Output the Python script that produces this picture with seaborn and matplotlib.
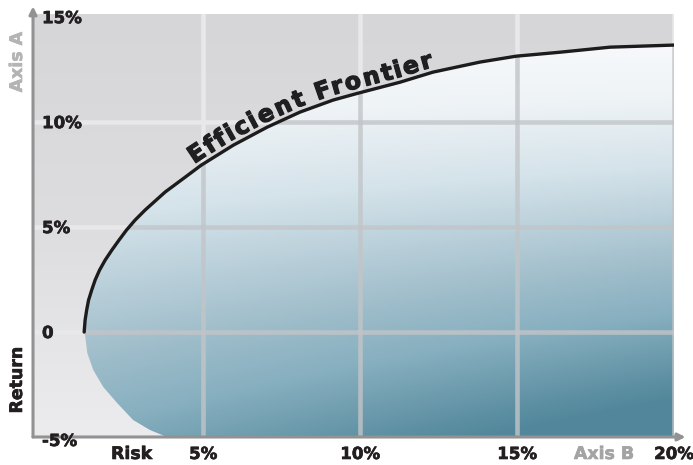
import numpy as np
import matplotlib
matplotlib.use("Agg")
import matplotlib.pyplot as plt
import matplotlib.patheffects as pe
import seaborn as sns
from matplotlib.colors import LinearSegmentedColormap
from matplotlib.patches import Polygon
from matplotlib.transforms import blended_transform_factory, IdentityTransform

# frontier (risk %, return %)
risk_frontier = [1.21, 1.24, 1.29, 1.35, 1.45, 1.56, 1.70, 1.88, 2.09, 2.32, 2.56, 2.83,
                 3.15, 3.47, 3.79, 4.43, 4.94, 5.96, 7.04, 8.09, 9.14, 9.94, 11.27,
                 12.32, 13.82, 14.97, 16.37, 17.96, 20.0]
return_frontier = [0.0, 0.57, 1.05, 1.52, 2.0, 2.48, 2.95, 3.43, 3.90, 4.38, 4.86, 5.33,
                   5.81, 6.24, 6.67, 7.38, 7.95, 8.90, 9.76, 10.48, 11.05, 11.38, 11.90,
                   12.38, 12.86, 13.14, 13.33, 13.57, 13.67]
# lower (inefficient) edge of the shaded region
risk_lower = [1.24, 1.31, 1.50, 1.82, 2.26, 2.77, 3.31, 3.85]
return_lower = [-0.14, -1.0, -1.81, -2.62, -3.38, -4.19, -4.67, -5.0]

x_ticks = [5, 10, 15, 20]
x_tick_labels = ["5%", "10%", "15%", "20%"]
y_ticks = [15, 10, 5, 0, -5]
y_tick_labels = ["15%", "10%", "5%", "0", "-5%"]
curve_label = "Efficient Frontier"

sns.set_style("white")
plt.rcParams["font.family"] = ["DejaVu Sans"]

fig = plt.figure(figsize=(6.93, 4.65), dpi=100)
ax = fig.add_axes([33 / 693, 28 / 465, 641 / 693, 423 / 465])
x0, x1, y0, y1 = -0.42, 20.0, -5.0, 15.15

# gray background, lighter towards the bottom
bg_cmap = LinearSegmentedColormap.from_list("bg", ["#d6d6d9", "#dddddf", "#ececee"])
bg = np.linspace(0, 1, 200).reshape(-1, 1)
ax.imshow(bg, extent=[x0, x1, y0, y1], aspect="auto", cmap=bg_cmap, zorder=0, origin="upper")

# shaded feasible region
poly_x = risk_frontier + [risk_frontier[-1]] + risk_lower[::-1]
poly_y = return_frontier + [y0] + return_lower[::-1]
region = Polygon(np.column_stack([poly_x, poly_y]), closed=True,
                 facecolor="none", edgecolor="none")
ax.add_patch(region)

fill_cmap = LinearSegmentedColormap.from_list(
    "fill", [(0, "#f7f9fb"), (0.15, "#eef3f6"), (0.34, "#d5e3ea"), (0.62, "#9fbdca"),
             (0.75, "#88b0c0"), (0.95, "#5b8ea1"), (1.0, "#52879b")])
gx, gy = np.meshgrid(np.linspace(x0, x1, 300), np.linspace(y1, y0, 300))
v = np.clip((13.7 - gy) / 18.7, 0, 1)
shade = np.clip(v * (0.75 + 0.35 * gx / 20), 0, 1)
im = ax.imshow(shade, extent=[x0, x1, y0, y1], aspect="auto", cmap=fill_cmap,
               vmin=0, vmax=1, zorder=2, origin="upper")
im.set_clip_path(region)

# grid: light over the background, darker over the shaded part
for xv in x_ticks:
    ax.axvline(xv, color="#e8e8ea", lw=3.3, zorder=1)
    ln = ax.axvline(xv, color="#c2c5c8", lw=3.3, alpha=0.8, zorder=3)
    ln.set_clip_path(region)
for yv in [10, 5, 0]:
    ax.axhline(yv, color="#e8e8ea", lw=3.3, zorder=1)
    ln = ax.axhline(yv, color="#c2c5c8", lw=3.3, alpha=0.8, zorder=3)
    ln.set_clip_path(region)

sns.lineplot(x=risk_frontier, y=return_frontier, sort=False, estimator=None,
             color="#1c1c1c", lw=2.4, ax=ax, zorder=4, solid_capstyle="round",
             solid_joinstyle="round")

ax.set_xlim(x0, x1)
ax.set_ylim(y0, y1)
ax.set_xticks([])
ax.set_yticks([])
for s in ax.spines.values():
    s.set_visible(False)

# axis arrows
arrow = dict(arrowstyle="-|>", color="#929292", lw=2.2, mutation_scale=11, shrinkA=0, shrinkB=0)
ax.annotate("", xy=(0, 1.018), xytext=(0, 0), xycoords="axes fraction", arrowprops=arrow)
ax.annotate("", xy=(1.018, 0), xytext=(0, 0), xycoords="axes fraction", arrowprops=arrow)


def heavy(c):
    return [pe.withStroke(linewidth=0.45, foreground=c)]


txt = dict(fontsize=12, fontweight="bold", color="#231f20", path_effects=heavy("#231f20"))
ylab_tr = blended_transform_factory(ax.transAxes, ax.transData)
for val, lab in zip(y_ticks, y_tick_labels):
    dy = -4 if val == -5 else -1
    ax.annotate(lab, xy=(0, val), xycoords=ylab_tr, xytext=(9, dy),
                textcoords="offset pixels", ha="left", va="center", **txt)
for val, lab in zip(x_ticks, x_tick_labels):
    ax.annotate(lab, xy=(val, 0), xycoords=blended_transform_factory(ax.transData, ax.transAxes),
                xytext=(0, -17), textcoords="offset pixels", ha="center", va="center", **txt)

ax.text(0.154, -17 / 423, "Risk", transform=ax.transAxes, ha="center", va="center",
        fontsize=12.5, fontweight="bold", color="#231f20", path_effects=heavy("#231f20"))
ax.text(0.891, -17 / 423, "Axis B", transform=ax.transAxes, ha="center", va="center",
        fontsize=12.5, fontweight="bold", color="#a4a4a4", path_effects=heavy("#a4a4a4"))
fig.text(17 / 693, (465 - 62) / 465, "Axis A", rotation=90, ha="center", va="center",
         fontsize=12.5, fontweight="bold", color="#b4b4b4", path_effects=heavy("#b4b4b4"))
fig.text(17 / 693, (465 - 380) / 465, "Return", rotation=90, ha="center", va="center",
         fontsize=12.5, fontweight="bold", color="#231f20", path_effects=heavy("#231f20"))

# label written along the frontier
fig.canvas.draw()
renderer = fig.canvas.get_renderer()
fs = 17


def text_width(s):
    if not s:
        return 0.0
    t = fig.text(0, 0, s, fontsize=fs, fontweight="bold")
    w = t.get_window_extent(renderer).width
    t.remove()
    return w


pts = ax.transData.transform(np.column_stack([risk_frontier, return_frontier]))
arc = np.concatenate([[0], np.cumsum(np.hypot(np.diff(pts[:, 0]), np.diff(pts[:, 1])))])
s_start = np.interp(196, pts[:, 0], arc)
s_end = np.interp(436, pts[:, 0], arc)
total = text_width(curve_label)
k = (s_end - s_start) / total
for i, ch in enumerate(curve_label):
    if ch == " ":
        continue
    w = text_width(ch)
    left = text_width(curve_label[:i + 1]) - w
    s = s_start + (left + w / 2) * k
    px, py = np.interp(s, arc, pts[:, 0]), np.interp(s, arc, pts[:, 1])
    ax_, ay_ = np.interp(s - 10, arc, pts[:, 0]), np.interp(s - 10, arc, pts[:, 1])
    bx_, by_ = np.interp(s + 10, arc, pts[:, 0]), np.interp(s + 10, arc, pts[:, 1])
    th = np.arctan2(by_ - ay_, bx_ - ax_)
    off = 5
    fig.text(px - np.sin(th) * off, py + np.cos(th) * off, ch, transform=IdentityTransform(),
             rotation=np.degrees(th), rotation_mode="anchor", ha="center", va="baseline",
             fontsize=fs, fontweight="bold", color="#1f1f1f", zorder=5,
             path_effects=[pe.withStroke(linewidth=0.9, foreground="#1f1f1f")])

fig.savefig("out.png", dpi=100, facecolor="white")
